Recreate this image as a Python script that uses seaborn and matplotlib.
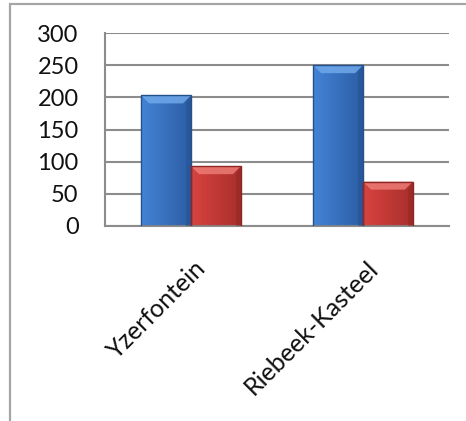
import numpy as np
import pandas as pd
import matplotlib
matplotlib.use("Agg")
import matplotlib.pyplot as plt
from matplotlib.patches import Rectangle, Polygon
from matplotlib.colors import to_rgb
from matplotlib.transforms import ScaledTranslation
import seaborn as sns

# Data
towns = ["Yzerfontein", "Riebeek-Kasteel"]
series_names = ["Series 1", "Series 2"]
series1 = [203, 250]
series2 = [93, 69]
y_ticks = [0, 50, 100, 150, 200, 250, 300]

df = pd.DataFrame({
    "town": towns * 2,
    "series": [series_names[0]] * len(towns) + [series_names[1]] * len(towns),
    "value": series1 + series2,
})

sns.set_theme(style="white")
plt.rcParams["font.family"] = ["Lato", "DejaVu Sans"]

W, H = 466, 421
fig = plt.figure(figsize=(W / 100, H / 100), dpi=100)
fig.patch.set_facecolor("white")

# outer chart frame (runs off the right and bottom edges)
fig.patches.append(Rectangle((10 / W, -0.1), 1.2, 1.1 - 4 / H,
                             transform=fig.transFigure, fill=False,
                             edgecolor="#a6a6a6", linewidth=1.6, zorder=0))

ax = fig.add_axes([105 / W, 1 - 226 / H, (449 - 105) / W, (226 - 33) / H])

palette = {series_names[0]: "#3b78c9", series_names[1]: "#c93a36"}
sns.barplot(data=df, x="town", y="value", hue="series", palette=palette,
            width=0.58, gap=0, ax=ax, legend=False, errorbar=None,
            linewidth=0, saturation=1)

ax.set_xlim(-0.5, 1.5)
ax.set_ylim(0, 300)
ax.set_xlabel("")
ax.set_ylabel("")

# gridlines
grid_c = "#8c8c8c"
ax.set_yticks(y_ticks)
ax.set_yticklabels([str(v) for v in y_ticks], fontsize=17, color="#111111")
ax.yaxis.grid(True, color=grid_c, linewidth=1.5)
ax.set_axisbelow(True)
ax.tick_params(axis="y", direction="out", length=8, width=1.5, color=grid_c, pad=11)

for side in ["top", "right"]:
    ax.spines[side].set_visible(False)
ax.spines["left"].set_color(grid_c)
ax.spines["left"].set_linewidth(1.5)
ax.spines["bottom"].set_color(grid_c)
ax.spines["bottom"].set_linewidth(1.5)

# category separators as major ticks, names as minor ticks
ax.set_xticks([-0.5, 0.5, 1.5])
ax.set_xticklabels([])
ax.tick_params(axis="x", which="major", direction="out", length=8, width=1.5, color=grid_c)
ax.set_xticks(range(len(towns)), minor=True)
ax.set_xticklabels(towns, minor=True, rotation=45, ha="right",
                   rotation_mode="anchor", fontsize=18, color="#111111")
ax.tick_params(axis="x", which="minor", length=0, pad=22)
# nudge the names slightly to the right
shift = ScaledTranslation(3 / 100, 0, fig.dpi_scale_trans)
for lab in ax.get_xticklabels(minor=True):
    lab.set_transform(lab.get_transform() + shift)

# bevelled shading for each bar
px_x = (449 - 105) / 2.0      # pixels per x unit
px_y = (226 - 33) / 300.0     # pixels per y unit
bev_px = 8
styles = {
    "#3b78c9": dict(left="#4383d6", right="#2c5ea4", top="#6fa8ea", edge="#24508c"),
    "#c93a36": dict(left="#d8433f", right="#a92f2c", top="#ec7b75", edge="#8e2624"),
}
for patch in list(ax.patches):
    x0 = patch.get_x(); w = patch.get_width(); h = patch.get_height()
    fc = patch.get_facecolor()
    key = min(styles, key=lambda k: np.sum((np.array(to_rgb(k)) - np.array(fc[:3])) ** 2))
    st = styles[key]
    l = np.array(to_rgb(st["left"])); r = np.array(to_rgb(st["right"]))
    t = np.linspace(0, 1, 64)[None, :, None]
    grad = (l * (1 - t) + r * t)
    grad = np.repeat(grad, 4, axis=0)
    im = ax.imshow(grad, extent=[x0, x0 + w, 0, h], aspect="auto", zorder=2,
                   interpolation="bilinear")
    im.set_clip_path(patch)
    dx = bev_px / px_x; dy = bev_px / px_y
    top = Polygon([(x0, h), (x0 + w, h), (x0 + w - dx, h - dy), (x0 + dx, h - dy)],
                  closed=True, facecolor=st["top"], edgecolor="none", zorder=3, alpha=0.85)
    ax.add_patch(top)
    rside = Polygon([(x0 + w, h), (x0 + w, 0), (x0 + w - dx * 0.6, 0), (x0 + w - dx * 0.6, h - dy)],
                    closed=True, facecolor=st["edge"], edgecolor="none", zorder=3, alpha=0.45)
    ax.add_patch(rside)
    ax.add_patch(Rectangle((x0, 0), w, h, fill=False, edgecolor=st["edge"],
                           linewidth=1.0, zorder=4))

fig.savefig("out.png", dpi=100)
